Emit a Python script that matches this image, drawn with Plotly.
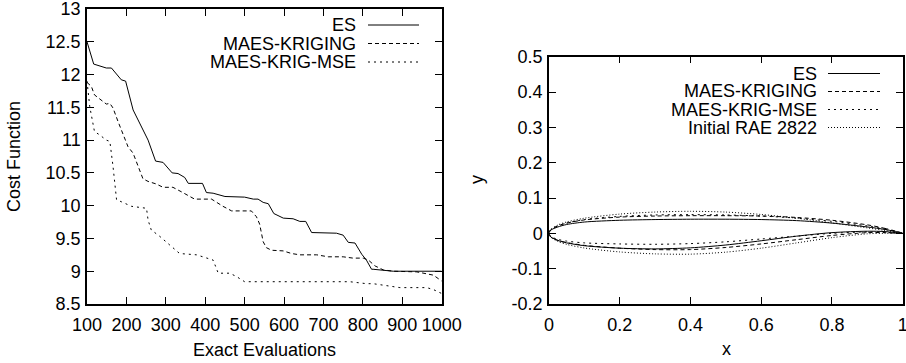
import plotly.graph_objects as go

W, H = 906, 363
FONT = "Liberation Sans"
FS = 18

# ---------------- Left chart data ----------------
series_names = ["ES", "MAES-KRIGING", "MAES-KRIG-MSE"]

es_x = [100, 117, 149, 162, 187, 198, 217, 234, 255, 274, 293, 316, 331, 348, 357, 393, 403, 420, 450,
        500, 522, 534, 547, 560, 574, 598, 623, 640, 655, 670, 695, 733, 750, 763, 780, 797, 809, 822,
        826, 848, 877, 1000]
es_y = [12.5, 12.16, 12.1, 12.1, 11.92, 11.9, 11.46, 11.26, 11.0, 10.68, 10.66, 10.5, 10.49, 10.43, 10.34,
        10.34, 10.2, 10.19, 10.14, 10.13, 10.1, 10.1, 10.05, 10.03, 9.88, 9.81, 9.8, 9.76, 9.76, 9.59, 9.59,
        9.58, 9.55, 9.44, 9.43, 9.26, 9.17, 9.03, 9.03, 9.02, 9.0, 9.0]

kr_x = [100, 111, 119, 141, 149, 158, 166, 179, 191, 204, 217, 230, 242, 255, 276, 293, 318, 340, 361,
        373, 416, 428, 445, 467, 517, 530, 538, 547, 555, 568, 598, 619, 640, 683, 712, 750, 775, 801,
        814, 831, 852, 877, 937, 979, 1000]
kr_y = [11.88, 11.82, 11.69, 11.59, 11.55, 11.56, 11.49, 11.28, 11.1, 10.9, 10.8, 10.6, 10.41, 10.37,
        10.33, 10.28, 10.28, 10.21, 10.14, 10.1, 10.1, 10.05, 9.99, 9.92, 9.92, 9.83, 9.72, 9.45, 9.36,
        9.32, 9.31, 9.27, 9.25, 9.25, 9.22, 9.22, 9.2, 9.2, 9.17, 9.08, 9.02, 9.0, 8.99, 8.94, 8.85]

ms_x = [100, 107, 119, 132, 149, 158, 166, 175, 187, 213, 251, 255, 263, 285, 310, 335, 378, 395, 420,
        433, 462, 479, 500, 767, 809, 826, 877, 894, 962, 979, 1000]
ms_y = [11.9, 11.51, 11.13, 11.08, 11.0, 10.98, 10.6, 10.09, 10.06, 9.99, 9.96, 9.78, 9.63, 9.53, 9.4,
        9.27, 9.25, 9.22, 9.17, 8.97, 8.97, 8.92, 8.84, 8.84, 8.81, 8.81, 8.76, 8.75, 8.75, 8.72, 8.66]

left_xticks = [100, 200, 300, 400, 500, 600, 700, 800, 900, 1000]
left_yticks = [8.5, 9, 9.5, 10, 10.5, 11, 11.5, 12, 12.5, 13]
left_ytick_labels = ["8.5", "9", "9.5", "10", "10.5", "11", "11.5", "12", "12.5", "13"]

# ---------------- Right chart data (airfoils: TE -> upper -> LE -> lower -> TE) ----------------
airfoil_names = ["ES", "MAES-KRIGING", "MAES-KRIG-MSE", "Initial RAE 2822"]

af_x = [1.0, 0.95, 0.9, 0.8, 0.7, 0.6, 0.5, 0.4, 0.3, 0.2, 0.1, 0.05, 0.025, 0.005, 0.0,
        0.005, 0.025, 0.05, 0.1, 0.2, 0.3, 0.4, 0.5, 0.6, 0.7, 0.8, 0.9, 0.95, 1.0]

es_af_y = [0.0, 0.011, 0.018, 0.029, 0.036, 0.039, 0.040, 0.040, 0.039, 0.037, 0.032, 0.025, 0.018, 0.009, 0.0,
           -0.010, -0.020, -0.027, -0.035, -0.042, -0.044, -0.041, -0.033, -0.021, -0.008, 0.002, 0.006, 0.005, 0.0]
kr_af_y = [0.0, 0.014, 0.024, 0.037, 0.045, 0.049, 0.050, 0.050, 0.049, 0.046, 0.038, 0.029, 0.021, 0.010, 0.0,
           -0.010, -0.020, -0.026, -0.034, -0.042, -0.046, -0.046, -0.040, -0.030, -0.018, -0.006, 0.002, 0.002, 0.0]
ms_af_y = [0.0, 0.012, 0.021, 0.034, 0.043, 0.049, 0.052, 0.053, 0.052, 0.048, 0.039, 0.029, 0.021, 0.010, 0.0,
           -0.009, -0.017, -0.022, -0.027, -0.030, -0.031, -0.029, -0.024, -0.016, -0.008, 0.000, 0.004, 0.003, 0.0]
rae_af_y = [0.0, 0.008, 0.0154, 0.0296, 0.0428, 0.0534, 0.0602, 0.0624, 0.0603, 0.0545, 0.0429, 0.0323, 0.0237, 0.0112, 0.0,
            -0.0108, -0.0229, -0.0313, -0.0415, -0.0526, -0.0581, -0.0589, -0.0532, -0.0420, -0.0271, -0.0122, -0.0013, 0.0, 0.0]

right_xticks = [0, 0.2, 0.4, 0.6, 0.8, 1]
right_xtick_labels = ["0", "0.2", "0.4", "0.6", "0.8", "1"]
right_yticks = [-0.2, -0.1, 0, 0.1, 0.2, 0.3, 0.4, 0.5]
right_ytick_labels = ["-0.2", "-0.1", "0", "0.1", "0.2", "0.3", "0.4", "0.5"]

# ---------------- styles ----------------
dashes = ["solid", "4px,3px", "2px,4px", "1px,2px"]


def px_x(p):
    return p / W


def px_y(p):
    return 1 - p / H


fig = go.Figure()

left_data = [(es_x, es_y), (kr_x, kr_y), (ms_x, ms_y)]
for name, (xs, ys), d in zip(series_names, left_data, dashes):
    fig.add_trace(go.Scatter(x=xs, y=ys, mode="lines", name=name,
                             line=dict(color="black", width=1, dash=d),
                             xaxis="x", yaxis="y", showlegend=False))

right_data = [es_af_y, kr_af_y, ms_af_y, rae_af_y]
for name, ys, d in zip(airfoil_names, right_data, dashes):
    fig.add_trace(go.Scatter(x=af_x, y=ys, mode="lines", name=name,
                             line=dict(color="black", width=1, dash=d, shape="spline", smoothing=0.8),
                             xaxis="x2", yaxis="y2", showlegend=False))

axis_common = dict(showline=True, linecolor="black", linewidth=1.5, mirror="ticks",
                   ticks="inside", ticklen=7, tickwidth=1, tickcolor="black",
                   showgrid=False, zeroline=False, automargin=False, ticklabeloverflow="allow",
                   tickfont=dict(family=FONT, size=FS, color="black"))

# plot areas in pixels
L = dict(x0=87, x1=441.7, y0=9, y1=304)
R = dict(x0=549, x1=902.7, y0=56.7, y1=304)

fig.update_layout(
    template="none",
    width=W, height=H, margin=dict(l=0, r=0, t=0, b=0, pad=0),
    paper_bgcolor="white", plot_bgcolor="white",
    font=dict(family=FONT, size=FS, color="black"),
    xaxis=dict(domain=[px_x(L["x0"]), px_x(L["x1"])], range=[100, 1000],
               tickvals=left_xticks, ticklabelstandoff=4, anchor="y", **axis_common),
    yaxis=dict(domain=[px_y(L["y1"]), px_y(L["y0"])], range=[8.5, 13],
               tickvals=left_yticks, ticktext=left_ytick_labels, ticklabelstandoff=1, anchor="x",
               **axis_common),
    xaxis2=dict(domain=[px_x(R["x0"]), px_x(R["x1"])], range=[0, 1],
                tickvals=right_xticks, ticktext=right_xtick_labels, ticklabelstandoff=4, anchor="y2",
                **axis_common),
    yaxis2=dict(domain=[px_y(R["y1"]), px_y(R["y0"])], range=[-0.2, 0.5],
                tickvals=right_yticks, ticktext=right_ytick_labels, ticklabelstandoff=1, anchor="x2",
                **axis_common),
)

annotations = []
shapes = []

# axis titles
annotations.append(dict(text="Exact Evaluations", x=px_x(264), y=px_y(350), xref="paper", yref="paper",
                        showarrow=False, xanchor="center", yanchor="middle", font=dict(size=FS)))
annotations.append(dict(text="Cost Function", x=px_x(14), y=px_y(157), xref="paper", yref="paper",
                        showarrow=False, xanchor="center", yanchor="middle", textangle=-90,
                        font=dict(size=FS)))
annotations.append(dict(text="x", x=px_x(726), y=px_y(349), xref="paper", yref="paper",
                        showarrow=False, xanchor="center", yanchor="middle", font=dict(size=FS)))
annotations.append(dict(text="y", x=px_x(477), y=px_y(180), xref="paper", yref="paper",
                        showarrow=False, xanchor="center", yanchor="middle", textangle=-90,
                        font=dict(size=FS)))

# gnuplot-style keys (text right-aligned, sample line on the right)
left_key_rows = [25, 43.5, 62]
for name, ry, d in zip(series_names, left_key_rows, dashes):
    annotations.append(dict(text=name, x=px_x(357), y=px_y(ry), xref="paper", yref="paper",
                            showarrow=False, xanchor="right", yanchor="middle", borderpad=0,
                            font=dict(size=FS)))
    shapes.append(dict(type="line", xref="paper", yref="paper", x0=px_x(368), x1=px_x(419),
                       y0=px_y(ry), y1=px_y(ry), line=dict(color="black", width=1, dash=d)))

right_key_rows = [73.5, 91.5, 109.5, 127.5]
for name, ry, d in zip(airfoil_names, right_key_rows, dashes):
    annotations.append(dict(text=name, x=px_x(818), y=px_y(ry), xref="paper", yref="paper",
                            showarrow=False, xanchor="right", yanchor="middle", borderpad=0,
                            font=dict(size=FS)))
    shapes.append(dict(type="line", xref="paper", yref="paper", x0=px_x(828), x1=px_x(880),
                       y0=px_y(ry), y1=px_y(ry), line=dict(color="black", width=1, dash=d)))

fig.update_layout(annotations=annotations, shapes=shapes)

fig.write_html("out.html")
